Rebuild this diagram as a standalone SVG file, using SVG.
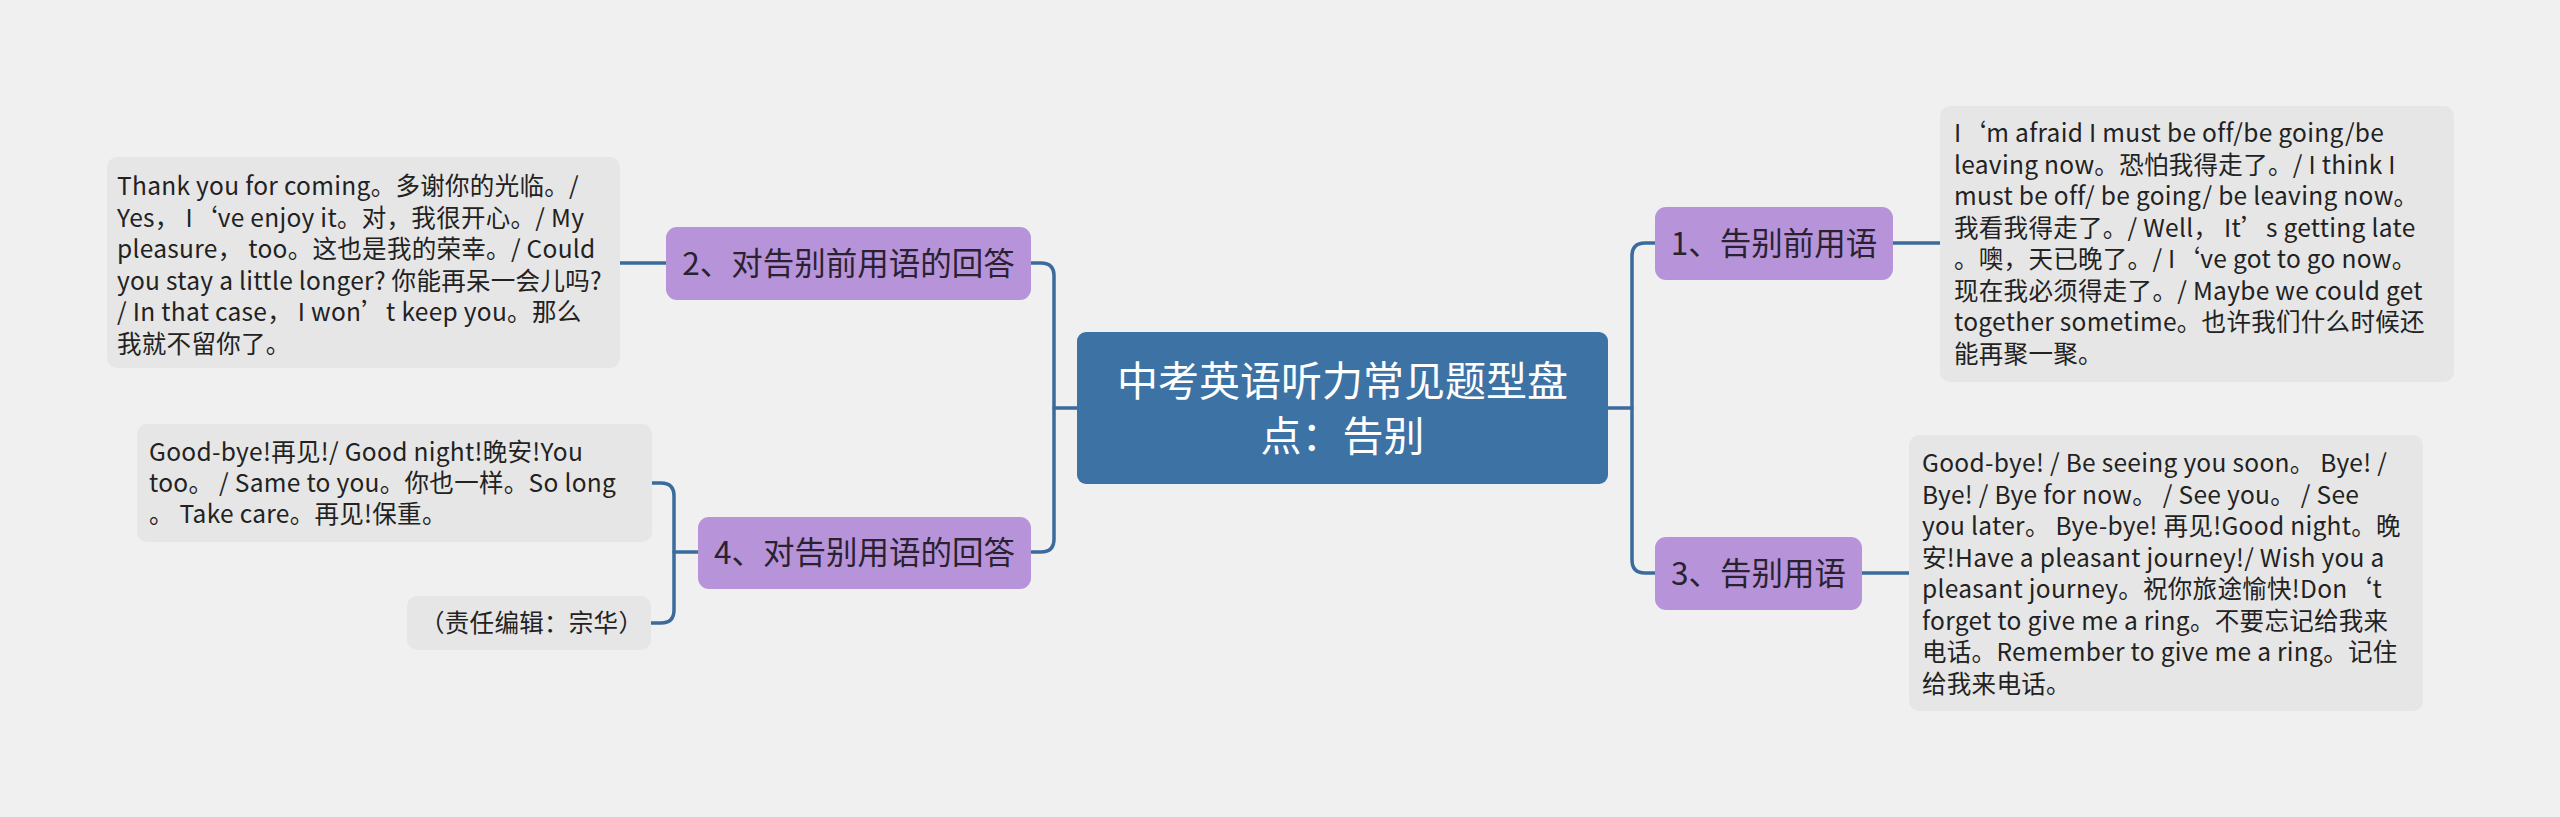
<svg xmlns="http://www.w3.org/2000/svg" width="2560" height="817" viewBox="0 0 2560 817">
<style>
.bg{fill:#f0f0f0}
.leaf{fill:#e6e6e6}
.sub{fill:#b794d9}
.root{fill:#3d72a5}
.lt{font-family:"Noto Sans CJK SC","Noto Sans",sans-serif;font-size:24.5px;fill:#222;letter-spacing:0.3px}
.st{font-family:"Noto Sans CJK SC","Noto Sans",sans-serif;font-size:31.5px;fill:#2a2230;text-anchor:middle}
.rt{font-family:"Noto Sans CJK SC","Noto Sans",sans-serif;font-size:41px;fill:#fff;text-anchor:middle}
.cn{fill:none;stroke:#3a6b9c;stroke-width:3.5;stroke-linecap:round}
</style>
<rect class="bg" x="0" y="0" width="2560" height="817"/>
<g id="connectors">
<path class="cn" d="M1608 408 H1632"/>
<path class="cn" d="M1655 243 H1645 Q1632 243 1632 256 V560 Q1632 573 1645 573 H1655"/>
<path class="cn" d="M1893 243 H1940"/>
<path class="cn" d="M1862 573 H1909"/>
<path class="cn" d="M1077 408 H1054"/>
<path class="cn" d="M1031 263 H1041 Q1054 263 1054 276 V539 Q1054 552 1041 552 H1031"/>
<path class="cn" d="M666 263 H620"/>
<path class="cn" d="M698 552 H674"/>
<path class="cn" d="M652 483 H661 Q674 483 674 496 V610 Q674 623 661 623 H651"/>
</g>
<g id="root">
<rect class="root" x="1077" y="332" width="531" height="152" rx="9"/>
<text class="rt" x="1342.5" y="396">中考英语听力常见题型盘</text>
<text class="rt" x="1342.5" y="451">点：告别</text>
</g>
<g id="n1">
<rect class="sub" x="1655" y="207" width="238" height="73" rx="11"/>
<text class="st" x="1774" y="255">1、告别前用语</text>
</g>
<g id="n3">
<rect class="sub" x="1655" y="537" width="207" height="73" rx="11"/>
<text class="st" x="1758.5" y="585">3、告别用语</text>
</g>
<g id="n2">
<rect class="sub" x="666" y="227" width="365" height="73" rx="11"/>
<text class="st" x="848.5" y="275">2、对告别前用语的回答</text>
</g>
<g id="n4">
<rect class="sub" x="698" y="517" width="333" height="72" rx="11"/>
<text class="st" x="864.5" y="564">4、对告别用语的回答</text>
</g>
<g id="leaf1">
<rect class="leaf" x="1940" y="106" width="514" height="276" rx="10"/>
<text class="lt">
<tspan x="1954" y="142">I‘m afraid I must be off/be going/be</tspan>
<tspan x="1954" y="173.5">leaving now。恐怕我得走了。/ I think I</tspan>
<tspan x="1954" y="205">must be off/ be going/ be leaving now。</tspan>
<tspan x="1954" y="236.5">我看我得走了。/ Well， It’s getting late</tspan>
<tspan x="1954" y="268">。噢，天已晚了。/ I‘ve got to go now。</tspan>
<tspan x="1954" y="299.5">现在我必须得走了。/ Maybe we could get</tspan>
<tspan x="1954" y="331">together sometime。也许我们什么时候还</tspan>
<tspan x="1954" y="362.5">能再聚一聚。</tspan>
</text>
</g>
<g id="leaf3">
<rect class="leaf" x="1909" y="435" width="514" height="276" rx="10"/>
<text class="lt">
<tspan x="1922" y="472">Good-bye! / Be seeing you soon。 Bye! /</tspan>
<tspan x="1922" y="503.5">Bye! / Bye for now。 / See you。 / See</tspan>
<tspan x="1922" y="535">you later。 Bye-bye! 再见!Good night。晚</tspan>
<tspan x="1922" y="566.5">安!Have a pleasant journey!/ Wish you a</tspan>
<tspan x="1922" y="598">pleasant journey。祝你旅途愉快!Don‘t</tspan>
<tspan x="1922" y="629.5">forget to give me a ring。不要忘记给我来</tspan>
<tspan x="1922" y="661">电话。Remember to give me a ring。记住</tspan>
<tspan x="1922" y="692.5">给我来电话。</tspan>
</text>
</g>
<g id="leaf2">
<rect class="leaf" x="107" y="157" width="513" height="211" rx="10"/>
<text class="lt">
<tspan x="117" y="195">Thank you for coming。多谢你的光临。/</tspan>
<tspan x="117" y="226.5">Yes， I‘ve enjoy it。对，我很开心。/ My</tspan>
<tspan x="117" y="258">pleasure， too。这也是我的荣幸。/ Could</tspan>
<tspan x="117" y="289.5">you stay a little longer? 你能再呆一会儿吗?</tspan>
<tspan x="117" y="321">/ In that case， I won’t keep you。那么</tspan>
<tspan x="117" y="352.5">我就不留你了。</tspan>
</text>
</g>
<g id="leaf4a">
<rect class="leaf" x="137" y="424" width="515" height="118" rx="10"/>
<text class="lt">
<tspan x="149" y="461">Good-bye!再见!/ Good night!晚安!You</tspan>
<tspan x="149" y="492">too。 / Same to you。你也一样。So long</tspan>
<tspan x="149" y="523">。 Take care。再见!保重。</tspan>
</text>
</g>
<g id="leaf4b">
<rect class="leaf" x="407" y="596" width="244" height="54" rx="10"/>
<text class="lt" x="420" y="632">（责任编辑：宗华）</text>
</g>
</svg>
